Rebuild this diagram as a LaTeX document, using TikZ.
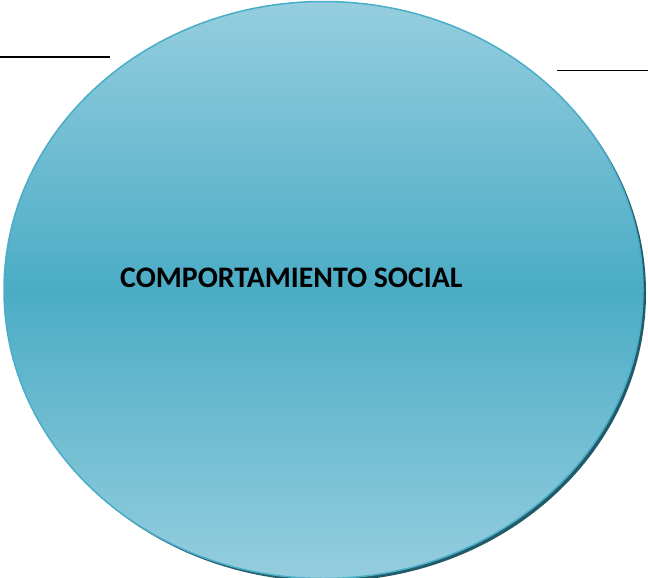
\documentclass[tikz,border=0pt]{standalone}
\usepackage{fontspec}
\setmainfont{Carlito}
\usetikzlibrary{shapes.geometric}
\usetikzlibrary{shadows}
\definecolor{lightblue}{HTML}{95CEDE}
\definecolor{midblue}{HTML}{4BACC6}
\definecolor{edgeblue}{HTML}{4AADC7}
\definecolor{shadowblue}{HTML}{215A68}
\tikzset{
	main node/.style={ellipse,draw=edgeblue,line width=1.5pt,
		minimum width=639pt,minimum height=577pt,
		top color=lightblue,bottom color=lightblue,middle color=midblue,
		drop shadow={shadow xshift=3pt,shadow yshift=-3pt,fill=shadowblue,opacity=1}},
	label text/.style={font=\bfseries\fontsize{29.8}{34}\selectfont,anchor=base west,inner sep=0pt},
	rule line/.style={draw=black,line width=1.3pt}
}

\begin{document}
\begin{tikzpicture}[x=1pt,y=-1pt]
	\useasboundingbox (0,0) rectangle (648,578);
	\node [main node] (soc) at (323.5,290) {};
	\node [label text] (soctext) at (120,287) {COMPORTAMIENTO SOCIAL};
	\coordinate (l1) at (0,57);
	\coordinate (l2) at (110,57);
	\coordinate (r1) at (557,70.5);
	\coordinate (r2) at (648,70.5);
	\draw [rule line] (l1) -- (l2);
	\draw [rule line] (r1) -- (r2);
\end{tikzpicture}
\end{document}
